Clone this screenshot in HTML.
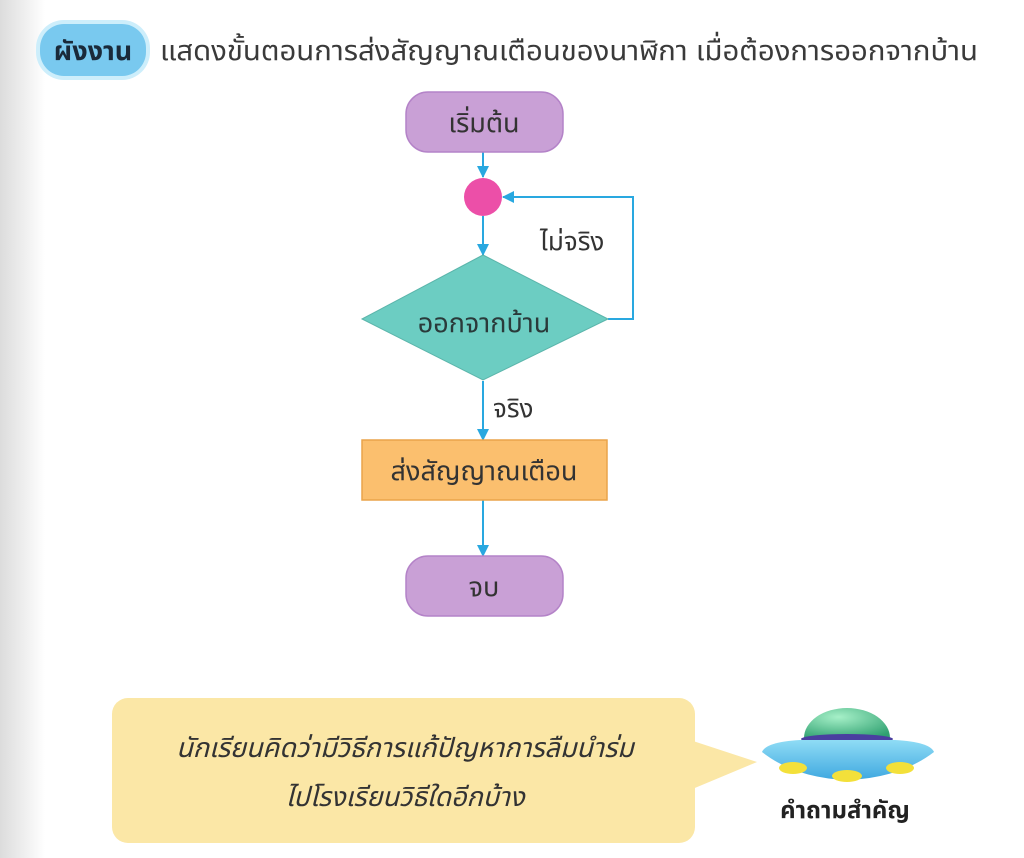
<!DOCTYPE html>
<html><head><meta charset="utf-8"><style>
html,body{margin:0;padding:0;width:1024px;height:858px;overflow:hidden;background:#fff}
svg{display:block}
text{font-family:"Liberation Sans","Noto Sans Thai","Noto Sans CJK SC",sans-serif}
</style></head><body>
<svg width="1024" height="858" viewBox="0 0 1024 858" xmlns="http://www.w3.org/2000/svg">
<defs>
<linearGradient id="edge" x1="0" x2="1"><stop offset="0" stop-color="#dcdcdc"/><stop offset="1" stop-color="#ffffff"/></linearGradient>
<radialGradient id="dome" cx="0.4" cy="0.3" r="0.8"><stop offset="0" stop-color="#a6f0c8"/><stop offset="1" stop-color="#2fa070"/></radialGradient>
<linearGradient id="disc" x1="0" y1="0" x2="0" y2="1"><stop offset="0" stop-color="#8fdcf5"/><stop offset="1" stop-color="#3fa8e0"/></linearGradient>
<marker id="ar" markerWidth="12" markerHeight="12" refX="11" refY="6" orient="auto" markerUnits="userSpaceOnUse"><path d="M0,0 L12,6 L0,12 Z" fill="#29a8e0"/></marker>
</defs>
<rect x="0" y="0" width="45" height="858" fill="url(#edge)"/>
<rect x="36" y="20" width="114" height="60" rx="28" fill="#cdeefb"/>
<rect x="40" y="24" width="106" height="52" rx="24" fill="#79c9ef"/>
<text x="93" y="60" font-size="27" font-weight="bold" fill="#1a2a3a" text-anchor="middle">ผังงาน</text>
<text x="160" y="60" font-size="28" fill="#3a3a3a" textLength="818" lengthAdjust="spacingAndGlyphs">แสดงขั้นตอนการส่งสัญญาณเตือนของนาฬิกา เมื่อต้องการออกจากบ้าน</text>
<g stroke="#29a8e0" stroke-width="2" fill="none">
<line x1="483" y1="152" x2="483" y2="177" marker-end="url(#ar)"/>
<line x1="483" y1="216" x2="483" y2="255" marker-end="url(#ar)"/>
<polyline points="608,319 633,319 633,197 503,197" marker-end="url(#ar)"/>
<line x1="483" y1="381" x2="483" y2="440" marker-end="url(#ar)"/>
<line x1="483" y1="500" x2="483" y2="556" marker-end="url(#ar)"/>
</g>
<rect x="406" y="92" width="157" height="60" rx="22" fill="#c9a0d6" stroke="#b483c8" stroke-width="1.5"/>
<text x="484" y="132" font-size="27" fill="#333" text-anchor="middle">เริ่มต้น</text>
<circle cx="483" cy="197" r="19" fill="#ec4fa8"/>
<polygon points="362,319 483,255 608,319 483,380" fill="#6ccdc2" stroke="#5bb5ab" stroke-width="1"/>
<text x="484" y="332" font-size="27" fill="#2a3a3a" text-anchor="middle">ออกจากบ้าน</text>
<text x="540" y="250" font-size="26" fill="#333">ไม่จริง</text>
<text x="493" y="417" font-size="26" fill="#333">จริง</text>
<rect x="362" y="440" width="245" height="60" fill="#fbbf6e" stroke="#eaa44a" stroke-width="1.5"/>
<text x="484" y="480" font-size="27" fill="#333" text-anchor="middle">ส่งสัญญาณเตือน</text>
<rect x="406" y="556" width="157" height="60" rx="22" fill="#c9a0d6" stroke="#b483c8" stroke-width="1.5"/>
<text x="484" y="596" font-size="27" fill="#333" text-anchor="middle">จบ</text>
<polygon points="690,740 757,762 690,790" fill="#fbe7a6"/>
<rect x="112" y="698" width="583" height="145" rx="16" fill="#fbe7a6"/>
<text x="405" y="757" font-size="27" fill="#333" text-anchor="middle" font-style="italic">นักเรียนคิดว่ามีวิธีการแก้ปัญหาการลืมนำร่ม</text>
<text x="405" y="806" font-size="27" fill="#333" text-anchor="middle" font-style="italic">ไปโรงเรียนวิธีใดอีกบ้าง</text>
<path d="M804,738 A43,30 0 0 1 890,738 Z" fill="url(#dome)"/>
<ellipse cx="847" cy="739" rx="46" ry="5" fill="#4a3fa0"/>
<path d="M762,752 Q766,742 800,740 L895,740 Q930,742 934,752 Q900,778 847,780 Q795,778 762,752 Z" fill="url(#disc)"/>
<ellipse cx="793" cy="768" rx="14" ry="6" fill="#f3e03a"/>
<ellipse cx="847" cy="776" rx="15" ry="6" fill="#f3e03a"/>
<ellipse cx="900" cy="768" rx="14" ry="6" fill="#f3e03a"/>
<text x="845" y="818" font-size="24" font-weight="bold" fill="#222" text-anchor="middle">คำถามสำคัญ</text>
</svg>
</body></html>
